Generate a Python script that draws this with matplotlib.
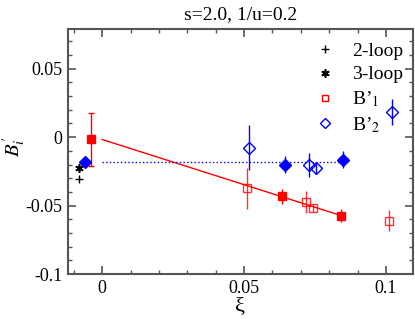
import matplotlib
matplotlib.use("Agg")
import matplotlib.pyplot as plt
from matplotlib.ticker import MultipleLocator

plt.rcParams['font.family'] = ['Liberation Serif', 'DejaVu Serif']
plt.rcParams['mathtext.fontset'] = 'stix'

# 2-loop / 3-loop values
loop2_x = [-0.008]
loop2_y = [-0.0306]
loop3_x = [-0.008]
loop3_y = [-0.0223]

# B'_1 open (red)
b1_x = [0.051, 0.0718, 0.0744, 0.101]
b1_y = [-0.0373, -0.0471, -0.0519, -0.0609]
b1_err = [0.015, 0.008, 0.003, 0.008]

# B'_1 filled (red)
b1f_x = [-0.004, 0.0633, 0.0842]
b1f_y = [-0.0017, -0.0432, -0.0573]
b1f_err = [0.0195, 0.0055, 0.005]

# B'_2 open (blue)
b2_x = [0.0519, 0.0729, 0.0754, 0.1021]
b2_y = [-0.0078, -0.0204, -0.0223, 0.0184]
b2_err = [0.0165, 0.009, 0.0045, 0.0098]

# B'_2 filled (blue)
b2f_x = [-0.0061, 0.0644, 0.085]
b2f_y = [-0.018, -0.0201, -0.0165]
b2f_err = [0.0, 0.0062, 0.0062]

# fit lines
fit1_x = [0.0, 0.0842]
fit1_y = [-0.0017, -0.0573]
fit2_x = [0.0, 0.086]
fit2_y = [-0.018, -0.018]

red = '#ff0000'
blue = '#0000ff'

fig = plt.figure(figsize=(4.15, 3.19), dpi=100)
ax = fig.add_axes([0.164, 0.141, 0.831, 0.768])

ax.plot(fit1_x, fit1_y, color=red, lw=1.0)
ax.plot(fit2_x, fit2_y, color=blue, lw=1.0, ls=':')

# filled points
ax.errorbar(b1f_x[:1], b1f_y[:1], yerr=b1f_err[:1], fmt='s', color=red, ms=6,
            elinewidth=1.0, capsize=2)
ax.errorbar(b1f_x[1:], b1f_y[1:], yerr=b1f_err[1:], fmt='s', color=red, ms=6,
            elinewidth=1.0, capsize=0)
ax.errorbar(b2f_x, b2f_y, yerr=b2f_err, fmt='D', color=blue, ms=6,
            elinewidth=1.0, capsize=0)

# open points
ax.errorbar(b1_x, b1_y, yerr=b1_err, fmt='s', color=red, mfc='none', ms=6,
            mew=1.0, elinewidth=1.0, capsize=0, alpha=0.8)
ax.errorbar(b2_x, b2_y, yerr=b2_err, fmt='D', color=blue, mfc='none', ms=6,
            mew=1.0, elinewidth=1.0, capsize=0)

# legend entries
ax.plot(loop2_x, loop2_y, '+', color='k', ms=6, mew=1.0, label='2-loop')
ax.plot(loop3_x, loop3_y, marker=(6, 2, 0), ls='none', color='k', ms=6,
        mew=1.2, label='3-loop')
ax.plot([], [], 's', color=red, mfc='none', ms=5, mew=1.0, label="B’$_1$")
ax.plot([], [], 'D', color=blue, mfc='none', ms=5, mew=1.0, label="B’$_2$")

ax.set_xlim(-0.012, 0.1095)
ax.set_ylim(-0.1, 0.079)
ax.xaxis.set_minor_locator(MultipleLocator(0.01))
ax.yaxis.set_minor_locator(MultipleLocator(0.01))
ax.set_xticks([0, 0.05, 0.1])
ax.set_xticklabels(['0', '0.05', '0.1'])
ax.set_yticks([-0.1, -0.05, 0, 0.05])
ax.set_yticklabels(['-0.1', '-0.05', '0', '0.05'])

for s in ax.spines.values():
    s.set_linewidth(1.5)
    s.set_color('#555555')
ax.tick_params(which='both', direction='in', top=True, right=True,
               colors='#555555', labelcolor='black', labelsize=13)
ax.tick_params(which='major', length=6, width=1.2, pad=4)
ax.tick_params(which='minor', length=3, width=1.0)

ax.set_xlabel('ξ', fontsize=16, labelpad=0)
ax.set_ylabel(r"$B^{\prime}_i$", fontsize=15)
ax.yaxis.set_label_coords(-0.12, 0.52)
ax.set_title('s=2.0, 1/u=0.2', fontsize=14, pad=7)

ax.legend(loc='upper right', frameon=False, fontsize=14, handlelength=1.0,
          handletextpad=0.9, labelspacing=0.3, borderaxespad=0.1,
          bbox_to_anchor=(1.0, 0.985))

fig.savefig('out.png', dpi=100)
